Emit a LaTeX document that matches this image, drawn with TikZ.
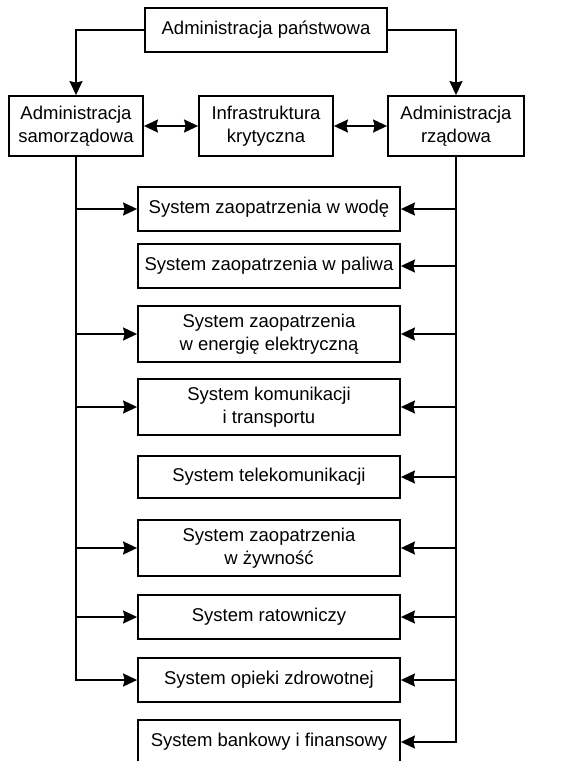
\documentclass[tikz,border=0pt]{standalone}
\usepackage{fontspec}
\setmainfont{Liberation Sans}
\usetikzlibrary{arrows.meta}

\tikzset{
  box/.style={draw,line width=1.8pt,align=center,inner sep=0pt,
    font=\fontsize{18.5}{23}\selectfont},
  admbox/.style={box,minimum width=134pt,minimum height=60pt},
  sysbox/.style={box,minimum width=262pt,minimum height=44pt},
  sysbox2/.style={sysbox,minimum height=56pt},
  link/.style={line width=1.8pt,-{Stealth[length=14pt,width=13pt,inset=1.5pt]}},
  dlink/.style={line width=1.8pt,{Stealth[length=14pt,width=13pt,inset=1.5pt]}-{Stealth[length=14pt,width=13pt,inset=1.5pt]}}
}

\begin{document}
\begin{tikzpicture}[x=1pt,y=-1pt]
  % Page frame (image is cut at the bottom)
  \clip (0,0) rectangle (568,761);

  % Top level
  \node[box,minimum width=242pt,minimum height=44pt] (panst) at (266,30) {Administracja państwowa};

  % Second level
  \node[admbox] (samo) at (76,126) {Administracja\\samorządowa};
  \node[admbox] (infra) at (266,126) {Infrastruktura\\krytyczna};
  \node[admbox,minimum width=136pt] (rzad) at (456,126) {Administracja\\rządowa};

  % Systems
  \node[sysbox] (woda) at (269,209) {System zaopatrzenia w wodę};
  \node[sysbox] (paliwa) at (269,266) {System zaopatrzenia w paliwa};
  \node[sysbox2] (energia) at (269,334) {System zaopatrzenia\\w energię elektryczną};
  \node[sysbox2] (transport) at (269,407) {System komunikacji\\i transportu};
  \node[sysbox,minimum height=42pt] (telekom) at (269,477) {System telekomunikacji};
  \node[sysbox2] (zywnosc) at (269,548) {System zaopatrzenia\\w żywność};
  \node[sysbox] (ratow) at (269,617) {System ratowniczy};
  \node[sysbox] (zdrowie) at (269,680) {System opieki zdrowotnej};
  \node[sysbox] (bank) at (269,742) {System bankowy i finansowy};

  % From the top box down
  \draw[link] (panst.west) -| (samo.north);
  \draw[link] (panst.east) -| (rzad.north);

  % Between the administrations
  \draw[dlink] (samo.east) -- (infra.west);
  \draw[dlink] (infra.east) -- (rzad.west);

  % Left branch (samorzadowa)
  \draw[link] (samo.south) |- (zdrowie.west);
  \draw[link] (samo.south |- woda.west) -- (woda.west);
  \draw[link] (samo.south |- energia.west) -- (energia.west);
  \draw[link] (samo.south |- transport.west) -- (transport.west);
  \draw[link] (samo.south |- zywnosc.west) -- (zywnosc.west);
  \draw[link] (samo.south |- ratow.west) -- (ratow.west);

  % Right branch (rzadowa)
  \draw[link] (rzad.south) |- (bank.east);
  \draw[link] (rzad.south |- woda.east) -- (woda.east);
  \draw[link] (rzad.south |- paliwa.east) -- (paliwa.east);
  \draw[link] (rzad.south |- energia.east) -- (energia.east);
  \draw[link] (rzad.south |- transport.east) -- (transport.east);
  \draw[link] (rzad.south |- telekom.east) -- (telekom.east);
  \draw[link] (rzad.south |- zywnosc.east) -- (zywnosc.east);
  \draw[link] (rzad.south |- ratow.east) -- (ratow.east);
  \draw[link] (rzad.south |- zdrowie.east) -- (zdrowie.east);
\end{tikzpicture}
\end{document}
